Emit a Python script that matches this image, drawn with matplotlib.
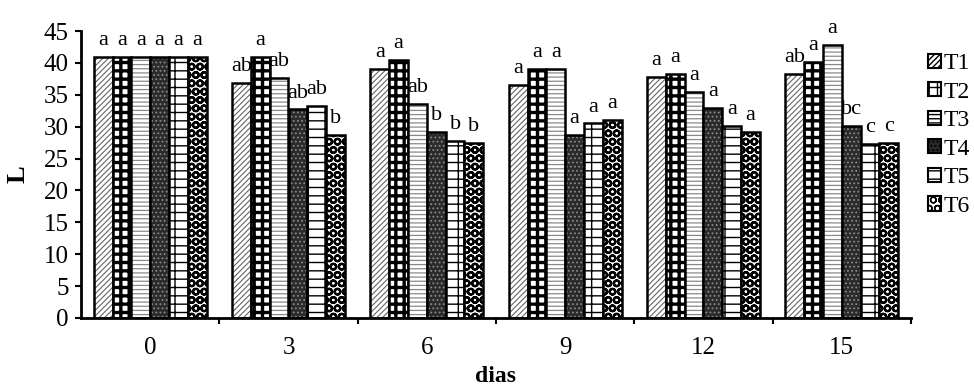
import matplotlib
matplotlib.use("Agg")
import matplotlib.pyplot as plt
from matplotlib.patches import Patch
import numpy as np

plt.rcParams['font.family'] = ['Liberation Serif', 'DejaVu Serif']

days = ["0", "3", "6", "9", "12", "15"]
treatments = ["T1", "T2", "T3", "T4", "T5", "T6"]
T1 = [41.0, 36.8, 39.1, 36.5, 37.8, 38.2]
T2 = [41.0, 41.0, 40.4, 39.1, 38.2, 40.1]
T3 = [41.0, 37.7, 33.6, 39.1, 35.5, 42.8]
T4 = [41.0, 32.7, 29.2, 28.7, 32.9, 30.1]
T5 = [41.0, 33.2, 27.7, 30.5, 30.1, 27.3]
T6 = [41.0, 28.7, 27.4, 31.0, 29.2, 27.4]
letters = {
    "T1": ["a", "ab", "a", "a", "a", "ab"],
    "T2": ["a", "a", "a", "a", "a", "a"],
    "T3": ["a", "ab", "ab", "a", "a", "a"],
    "T4": ["a", "ab", "b", "a", "a", "bc"],
    "T5": ["a", "ab", "b", "a", "a", "c"],
    "T6": ["a", "b", "b", "a", "a", "c"],
}
series = [T1, T2, T3, T4, T5, T6]

# fill style per treatment: (facecolor, hatch colour, hatch pattern, hatch linewidth)
styles = [
    ("white", "#666666", "//////", 0.8),
    ("white", "black", "++", 2.4),
    ("white", "#8a8a8a", "----", 0.9),
    ("#2a2a2a", "#8a8a8a", "....", 0.8),
    ("white", "black", "--|", 1.0),
    ("white", "black", "OO", 1.6),
]

fig = plt.figure(figsize=(9.74, 3.9), dpi=100)
ax = fig.add_axes([81 / 974, 1 - 318 / 390, (911 - 81) / 974, (318 - 31) / 390])

x = np.arange(len(days))
width = 0.136
offsets = (np.arange(6) - 2.5) * width


def hatched_bars(xpos, vals, style):
    face, hcol, hatch, hlw = style
    with plt.rc_context({'hatch.linewidth': hlw, 'hatch.color': hcol}):
        bars = ax.bar(xpos, vals, width, color=face, edgecolor=hcol,
                      hatch=hatch, linewidth=0)
    for b in bars:
        if hasattr(b, "set_hatch_linewidth"):
            b.set_hatch_linewidth(hlw)
    ax.bar(xpos, vals, width, fill=False, edgecolor="black", linewidth=1.8)
    return bars


for i, (name, vals) in enumerate(zip(treatments, series)):
    hatched_bars(x + offsets[i], vals, styles[i])
    for xi, v, lab in zip(x + offsets[i], vals, letters[name]):
        ax.annotate(lab, (xi, v), xytext=(0, 5), textcoords="offset points",
                    ha="center", va="bottom", fontsize=16)

ax.set_xlim(-0.5, 5.5)
ax.set_ylim(0, 45)
ax.set_yticks(np.arange(0, 46, 5))
ax.set_xticks(x)
ax.set_xticklabels(days)
ax.set_xticks(np.arange(0.5, 6.0, 1), minor=True)
ax.tick_params(axis="x", which="major", length=0, pad=14, labelsize=18)
ax.tick_params(axis="x", which="minor", length=4, width=1.5, direction="out")
ax.tick_params(axis="y", length=4, width=1.5, direction="out", pad=5, labelsize=18)
for s in ["top", "right"]:
    ax.spines[s].set_visible(False)
for s in ["left", "bottom"]:
    ax.spines[s].set_linewidth(2)

ax.set_xlabel("dias", fontsize=17, fontweight="bold", labelpad=5)
ax.set_ylabel("L", fontsize=19, fontweight="bold", labelpad=10)

handles = []
for name, st in zip(treatments, styles):
    face, hcol, hatch, hlw = st
    handles.append(Patch(facecolor=face, edgecolor="black", hatch=hatch, linewidth=1.5, label=name))
leg = fig.legend(handles=handles, loc="upper left", bbox_to_anchor=(928 / 974, 1 - 53 / 390),
                 frameon=False, fontsize=17, handlelength=0.55, handleheight=0.55,
                 handletextpad=0.1, labelspacing=0.32, borderaxespad=0, borderpad=0)

fig.savefig("out.png", dpi=100)
